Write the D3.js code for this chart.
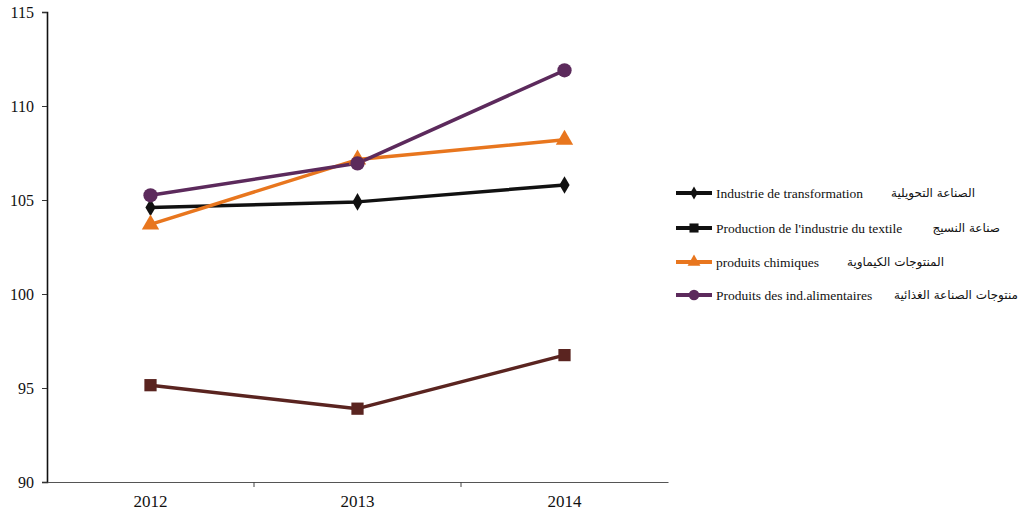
<!DOCTYPE html>
<html><head><meta charset="utf-8">
<script src="https://cdn.jsdelivr.net/npm/d3@7"></script>
<style>body{margin:0;background:#fff}svg{display:block}</style>
</head><body>
<svg id="c" width="1029" height="513"></svg>
<script>
const years = ["2012","2013","2014"];
const yTicks = [90,95,100,105,110,115];
const seriesNames = ["Industrie de transformation","Production de l'industrie du textile","produits chimiques","Produits des ind.alimentaires"];
const seriesArabic = ["الصناعة التحويلية","صناعة النسيج","المنتوجات الكيماوية","منتوجات الصناعة الغذائية"];
const industrie = [104.6, 104.9, 105.8];
const textile = [95.15, 93.9, 96.75];
const chimiques = [103.7, 107.15, 108.2];
const alimentaires = [105.25, 106.95, 111.9];

const colors = ["#111111","#5a2420","#e8761e","#5c2a5c"];
const legendColors = ["#111111","#111111","#e8761e","#5c2a5c"];
const shapes = [d3.symbolDiamond, d3.symbolSquare, d3.symbolTriangle, d3.symbolCircle];
const sizes = [90, 150, 130, 160];
const allSeries = [industrie, textile, chimiques, alimentaires];

const svg = d3.select("#c");
const m = {l:47, r:668, t:12, b:482};
const x = d3.scaleBand().domain(years).range([m.l, m.r]);
const y = d3.scaleLinear().domain([90,115]).range([m.b, m.t]);
const font = "'Liberation Serif','Times New Roman',serif";

// y axis
const ya = svg.append("g").attr("transform",`translate(${m.l},0)`)
  .call(d3.axisLeft(y).tickValues(yTicks).tickSize(5).tickPadding(8));
ya.select(".domain").attr("stroke","#111").attr("stroke-width",1.6);
ya.selectAll(".tick line").attr("stroke","#333");
ya.selectAll("text").attr("font-family",font).attr("font-size",16).attr("fill","#111");

// x axis
const xa = svg.append("g").attr("transform",`translate(0,${m.b})`)
  .call(d3.axisBottom(x).tickSize(0).tickPadding(13));
xa.select(".domain").attr("stroke","#555").attr("stroke-width",1);
xa.selectAll("text").attr("font-family",font).attr("font-size",17).attr("fill","#111");
xa.selectAll(".bnd").data(years.slice(1)).enter().append("line")
  .attr("x1",d=>x(d)).attr("x2",d=>x(d)).attr("y1",0).attr("y2",5).attr("stroke","#444");

const cx = d => x(d) + x.bandwidth()/2;
const line = d3.line().x((d,i)=>cx(years[i])).y(d=>y(d));

allSeries.forEach((s,k)=>{
  svg.append("path").datum(s).attr("d",line).attr("fill","none")
    .attr("stroke",colors[k]).attr("stroke-width",3.5).attr("stroke-linejoin","round");
});
allSeries.forEach((s,k)=>{
  svg.selectAll(null).data(s).enter().append("path")
    .attr("d",d3.symbol().type(shapes[k]).size(sizes[k]))
    .attr("transform",(d,i)=>`translate(${cx(years[i])},${y(d)})`)
    .attr("fill",colors[k]);
});

// legend
const lg = svg.append("g").attr("transform","translate(676,193)");
const rows = lg.selectAll("g").data(seriesNames).enter().append("g")
  .attr("transform",(d,i)=>`translate(0,${[0,35,69,102][i]})`);
rows.append("line").attr("x1",0).attr("x2",36).attr("stroke",(d,i)=>legendColors[i]).attr("stroke-width",4);
rows.append("path").attr("d",(d,i)=>d3.symbol().type(shapes[i]).size(sizes[i]*0.55)())
  .attr("transform","translate(18,0)").attr("fill",(d,i)=>legendColors[i]);
rows.append("text").attr("x",40).attr("y",4.5).text(d=>d)
  .attr("font-family",font).attr("font-size",13.5).attr("fill","#111");
rows.append("text").attr("x",(d,i)=>[975,1000,944,1018][i]-676).attr("y",4)
  .attr("text-anchor","end").text((d,i)=>seriesArabic[i])
  .attr("font-family","'DejaVu Sans',sans-serif").attr("font-size",12).attr("fill","#111");
</script>
</body></html>
